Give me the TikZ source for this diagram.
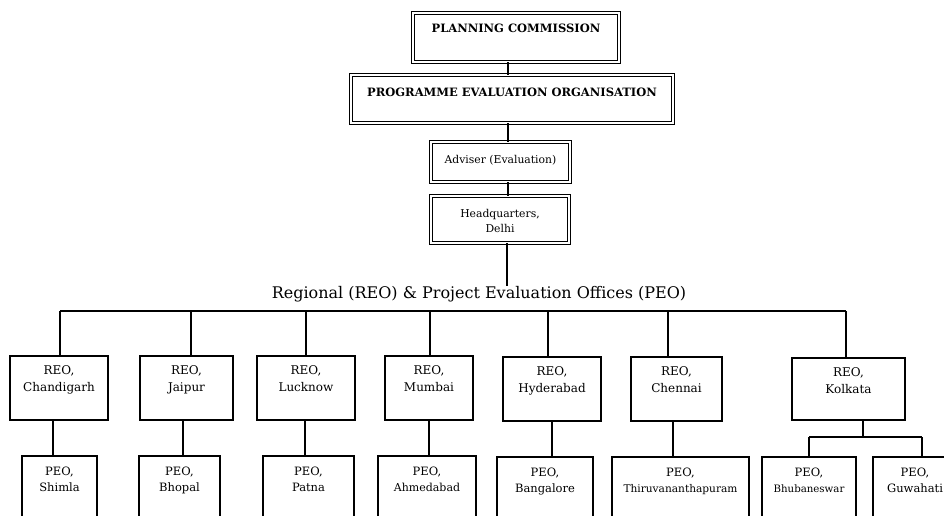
\documentclass[tikz,border=0pt]{standalone}
\usepackage{fontspec}
\setmainfont{DejaVu Serif}
\newcommand{\tbox}[4]{\parbox[c][#2][t]{#1}{\centering\rule{0pt}{#3}#4}}
\tikzset{
  dbl/.style={draw, double, double distance=1.8pt, line width=0.9pt, inner sep=0pt},
  single/.style={draw, line width=1.1pt, inner sep=0pt},
  conn/.style={line width=2.6pt},
  thinconn/.style={line width=2.3pt},
  bold/.style={font=\fontsize{11.5}{14}\selectfont\bfseries},
  plain/.style={font=\fontsize{10.8}{15}\selectfont},
  reo/.style={single, font=\fontsize{12}{17}\selectfont},
  peo/.style={single, font=\fontsize{11.5}{16.5}\selectfont},
}
\begin{document}
\begin{tikzpicture}[x=1pt,y=-1pt]
\useasboundingbox (0,0) rectangle (944,516);
\clip (0,0) rectangle (944,516);
\fill[white] (0,0) rectangle (944,516);
% top chain
\node[dbl,bold] (pc) at (516,37.5) {\tbox{206pt}{49pt}{20pt}{PLANNING COMMISSION}};
\node[dbl,bold] (poe) at (512,99) {\tbox{322pt}{48pt}{22pt}{PROGRAMME EVALUATION ORGANISATION}};
\node[dbl,plain] (adv) at (500.5,162) {\tbox{139pt}{40pt}{21pt}{Adviser (Evaluation)}};
\node[dbl,plain] (hq) at (500,219.5) {\tbox{138pt}{47pt}{21pt}{Headquarters,\\Delhi}};
\coordinate (spine) at (508,0);
\coordinate (hqend) at (507,286);
\draw[conn] (pc.south -| spine) -- (poe.north -| spine);
\draw[conn] (poe.south -| spine) -- (adv.north -| spine);
\draw[conn] (adv.south -| spine) -- (hq.north -| spine);
\draw[conn] (hq.south -| hqend) -- (hqend);
\node[font=\fontsize{16}{19}\selectfont] (head) at (479,294) {Regional (REO) \& Project Evaluation Offices (PEO)};
% REO boxes
\node[reo] (r1) at (59,388)    {\tbox{98pt}{64pt}{18pt}{REO,\\Chandigarh}};
\node[reo] (r2) at (186.5,388) {\tbox{93pt}{64pt}{18pt}{REO,\\Jaipur}};
\node[reo] (r3) at (306,388)   {\tbox{98pt}{64pt}{18pt}{REO,\\Lucknow}};
\node[reo] (r4) at (429,388)   {\tbox{88pt}{64pt}{18pt}{REO,\\Mumbai}};
\node[reo] (r5) at (552,389)   {\tbox{98pt}{64pt}{18pt}{REO,\\Hyderabad}};
\node[reo] (r6) at (676.5,389) {\tbox{91pt}{64pt}{18pt}{REO,\\Chennai}};
\node[reo] (r7) at (848.5,389) {\tbox{113pt}{62pt}{18pt}{REO,\\Kolkata}};
% PEO boxes
\node[peo] (p1) at (59.5,496)  {\tbox{75pt}{80pt}{19pt}{PEO,\\Shimla}};
\node[peo] (p2) at (179.5,496) {\tbox{81pt}{80pt}{19pt}{PEO,\\Bhopal}};
\node[peo] (p3) at (308.5,496) {\tbox{91pt}{80pt}{19pt}{PEO,\\Patna}};
\node[peo] (p4) at (427,496)   {\tbox{98pt}{80pt}{19pt}{PEO,\\{\fontsize{11}{16.5}\selectfont Ahmedabad}}};
\node[peo] (p5) at (545,497)   {\tbox{96pt}{80pt}{19pt}{PEO,\\Bangalore}};
\node[peo] (p6) at (680.5,497) {\tbox{137pt}{80pt}{19pt}{PEO,\\{\fontsize{10.6}{16.5}\selectfont Thiruvananthapuram}}};
\node[peo] (p7) at (809,497)   {\tbox{94pt}{80pt}{19pt}{PEO,\\{\fontsize{10.2}{16.5}\selectfont Bhubaneswar}}};
\node[peo] (p8) at (915,497)   {\tbox{84pt}{80pt}{19pt}{PEO,\\Guwahati}};
% main bus
\coordinate (bus) at (0,311);
\draw[conn] ([xshift=1pt]r1.north |- bus) -- ([xshift=-2.5pt]r7.north |- bus);
\draw[conn] ([xshift=1pt]r1.north |- bus) -- ([xshift=1pt]r1.north);
\draw[conn] ([xshift=4.5pt]r2.north |- bus) -- ([xshift=4.5pt]r2.north);
\draw[conn] (r3.north |- bus) -- (r3.north);
\draw[conn] ([xshift=1pt]r4.north |- bus) -- ([xshift=1pt]r4.north);
\draw[conn] ([xshift=-4pt]r5.north |- bus) -- ([xshift=-4pt]r5.north);
\draw[conn] ([xshift=-8.5pt]r6.north |- bus) -- ([xshift=-8.5pt]r6.north);
\draw[conn] ([xshift=-2.5pt]r7.north |- bus) -- ([xshift=-2.5pt]r7.north);
% REO to PEO
\draw[conn] ([xshift=-6pt]r1.south) -- ([xshift=-6pt]r1.south |- p1.north);
\draw[conn] ([xshift=-3.5pt]r2.south) -- ([xshift=-3.5pt]r2.south |- p2.north);
\draw[conn] ([xshift=-1pt]r3.south) -- ([xshift=-1pt]r3.south |- p3.north);
\draw[conn] (r4.south) -- (r4.south |- p4.north);
\draw[conn] (r5.south) -- (r5.south |- p5.north);
\draw[conn] ([xshift=-3.5pt]r6.south) -- ([xshift=-3.5pt]r6.south |- p6.north);
% Kolkata split
\coordinate (kbus) at (0,437);
\draw[conn] ([xshift=14.5pt]r7.south) -- ([xshift=14.5pt]r7.south |- kbus);
\draw[thinconn] (p7.north |- kbus) -- ([xshift=7pt]p8.north |- kbus);
\draw[thinconn] (p7.north |- kbus) -- (p7.north);
\draw[thinconn] ([xshift=7pt]p8.north |- kbus) -- ([xshift=7pt]p8.north);
\end{tikzpicture}
\end{document}
